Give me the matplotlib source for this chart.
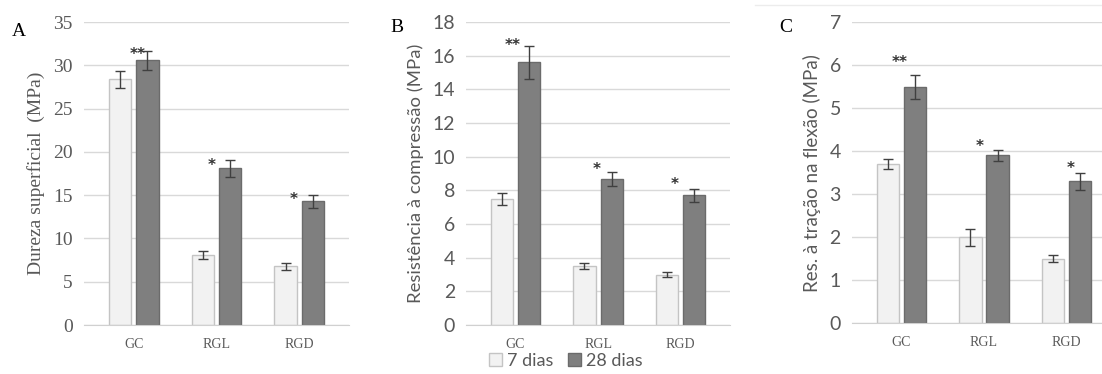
import numpy as np
import matplotlib
matplotlib.use("Agg")
import matplotlib.pyplot as plt
from matplotlib.patches import Patch

grupos = ["GC", "RGL", "RGD"]
series = ["7 dias", "28 dias"]

dureza_7 = [28.4, 8.1, 6.8]
dureza_7_err = [1.0, 0.5, 0.4]
dureza_28 = [30.6, 18.1, 14.3]
dureza_28_err = [1.1, 1.0, 0.75]

compr_7 = [7.5, 3.5, 3.0]
compr_7_err = [0.35, 0.2, 0.12]
compr_28 = [15.6, 8.65, 7.7]
compr_28_err = [1.0, 0.42, 0.38]

flex_7 = [3.7, 2.0, 1.5]
flex_7_err = [0.12, 0.2, 0.08]
flex_28 = [5.5, 3.9, 3.3]
flex_28_err = [0.28, 0.13, 0.2]

marcas = ["**", "*", "*"]
# posicao das marcas (x relativo ao grupo, y em unidades do eixo)
marcas_A = [(0.05, 31.3), (0.945, 18.4), (1.935, 14.5)]
marcas_B = [(-0.03, 16.6), (0.98, 9.25), (1.93, 8.35)]
marcas_C = [(-0.02, 6.07), (0.95, 4.1), (2.05, 3.6)]

claro = "#f2f2f2"
claro_borda = "#c4c4c4"
escuro = "#7f7f7f"
escuro_borda = "#6b6b6b"
cinza_txt = "#595959"
serif = "Liberation Serif"
sans = "Lato"

fig = plt.figure(figsize=(11.02, 3.74), dpi=100)

def painel(rect, v7, e7, v28, e28, ymax, ystep, ylabel, letra, letra_xy,
           marc, tickfont, labfont, labsize):
    ax = fig.add_axes(rect)
    x = np.arange(len(grupos))
    w = 0.27
    d = 0.165
    ax.bar(x - d, v7, w, color=claro, edgecolor=claro_borda, linewidth=1, zorder=2)
    ax.bar(x + d, v28, w, color=escuro, edgecolor=escuro_borda, linewidth=1, zorder=2)
    ax.errorbar(x - d, v7, yerr=e7, fmt="none", ecolor="#404040", elinewidth=1,
                capsize=3.5, capthick=1, zorder=3)
    ax.errorbar(x + d, v28, yerr=e28, fmt="none", ecolor="#404040", elinewidth=1,
                capsize=3.5, capthick=1, zorder=3)
    ax.set_xlim(-0.6, 2.6)
    ax.set_ylim(0, ymax)
    ax.set_yticks(np.arange(0, ymax + 0.01, ystep))
    ax.yaxis.grid(True, color="#d9d9d9", linewidth=1)
    ax.set_axisbelow(True)
    for s in ["top", "right", "left"]:
        ax.spines[s].set_visible(False)
    ax.spines["bottom"].set_color("#d0d0d0")
    ax.tick_params(axis="both", length=0)
    ax.tick_params(axis="y", pad=8)
    ax.tick_params(axis="x", pad=9)
    ax.set_xticks(x)
    ax.set_xticklabels(grupos, fontfamily=serif, fontsize=10, color=cinza_txt)
    for t in ax.get_yticklabels():
        t.set_fontfamily(tickfont)
        t.set_fontsize(14)
        t.set_color(cinza_txt)
    ax.set_ylabel(ylabel, fontfamily=labfont, fontsize=labsize, color=cinza_txt,
                  labelpad=6)
    for m, (mx, my) in zip(marcas, marc):
        ax.text(mx, my, m, ha="center", va="center", fontsize=11,
                fontweight="bold", color="#333333", zorder=4)
    fig.text(letra_xy[0], letra_xy[1], letra, fontfamily=serif, fontsize=14,
             color="black", ha="center", va="center")
    return ax

painel([0.0762, 0.131, 0.2405, 0.810], dureza_7, dureza_7_err, dureza_28, dureza_28_err,
       35, 5, "Dureza superficial  (MPa)", "A", (19 / 1102, 1 - 32 / 374),
       marcas_A, serif, serif, 14)
painel([0.4229, 0.131, 0.2396, 0.810], compr_7, compr_7_err, compr_28, compr_28_err,
       18, 2, "Resistência à compressão (MPa)", "B", (397 / 1102, 1 - 28 / 374),
       marcas_B, sans, sans, 13.3)
painel([0.7731, 0.136, 0.2396, 0.805], flex_7, flex_7_err, flex_28, flex_28_err,
       7, 1, "Res. à tração na flexão (MPa)", "C", (786 / 1102, 1 - 28 / 374),
       marcas_C, sans, sans, 13.5)

# linha fina no topo do painel C
fig.add_artist(plt.Line2D([755 / 1102, 1.0], [1 - 5 / 374, 1 - 5 / 374],
                          color="#ececec", linewidth=1, transform=fig.transFigure))

handles = [Patch(facecolor=claro, edgecolor=claro_borda),
           Patch(facecolor=escuro, edgecolor=escuro_borda)]
fig.legend(handles, series, loc="center", bbox_to_anchor=(566 / 1102, 1 - 361 / 374),
           ncol=2, frameon=False, handlelength=0.7, handleheight=0.7,
           handletextpad=0.3, columnspacing=0.8, borderpad=0.1,
           prop={"family": sans, "size": 13}, labelcolor=cinza_txt)

fig.savefig("out.png", dpi=100)
